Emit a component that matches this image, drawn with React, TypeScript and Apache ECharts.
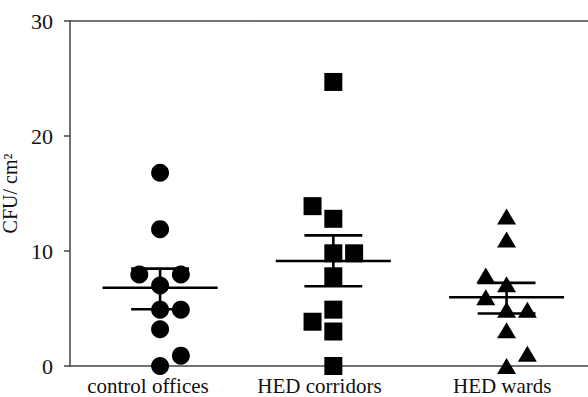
import React, { useEffect, useRef } from "react";
import * as echarts from "echarts";

const categories = ["control offices", "HED corridors", "HED wards"];
const labelPositions = [-0.07, 0.92, 1.975];

const controlValues = [16.8, 11.9, 7.95, 7.95, 7.0, 4.9, 4.9, 3.2, 0.9, 0.0];
const controlJitter = [0, 0, -1, 1, 0, 0, 1, 0, 1, 0];

const corridorValues = [24.7, 13.9, 12.8, 9.8, 9.8, 7.8, 4.9, 3.85, 3.0, 0.0];
const corridorJitter = [0, -1, 0, 0, 1, 0, 0, -1, 0, 0];

const wardValues = [13.0, 11.0, 7.87, 7.1, 5.98, 4.9, 4.9, 3.1, 1.07, 0.0];
const wardJitter = [0, 0, -1, 0, -1, 0, 1, 0, 1, 0];

const means = [6.8, 9.13, 5.98];
const upperSem = [8.47, 11.36, 7.23];
const lowerSem = [4.93, 6.94, 4.57];

const JITTER_STEP = 0.12;
const MEAN_HALF = 0.332;
const CAP_HALF = 0.167;
const FONT = "'Times New Roman', 'Liberation Serif', Times, serif";

function pts(cat: number, vals: number[], jit: number[]) {
  return vals.map((v, i) => [cat + jit[i] * JITTER_STEP, v]);
}

export default function App() {
  const ref = useRef<HTMLDivElement>(null);
  useEffect(() => {
    if (!ref.current) return;
    const chart = echarts.init(ref.current, null, { renderer: "svg" });
    const axisColor = "#444";
    chart.setOption({
      animation: false,
      backgroundColor: "#fff",
      textStyle: { fontFamily: FONT },
      grid: { left: 70, right: 0, top: 21, bottom: 31, containLabel: false, outerBoundsMode: "none" },
      xAxis: [
        {
          type: "value",
          min: -0.52,
          max: 2.47,
          axisLine: { show: true, onZero: false, lineStyle: { color: axisColor, width: 1.5 } },
          axisTick: { show: false },
          splitLine: { show: false },
          axisLabel: {
            customValues: labelPositions,
            formatter: (v: number) => categories[Math.round(v)] ?? "",
            fontFamily: FONT,
            fontSize: 21,
            color: "#111",
            margin: 9,
          },
        },
        {
          type: "value",
          position: "top",
          min: -0.52,
          max: 2.47,
          axisLine: { show: true, onZero: false, lineStyle: { color: axisColor, width: 1.5 } },
          axisTick: { show: false },
          splitLine: { show: false },
          axisLabel: { show: false },
        },
      ],
      yAxis: {
        type: "value",
        min: 0,
        max: 30,
        interval: 10,
        name: "CFU/ cm²",
        nameLocation: "middle",
        nameGap: 40,
        nameTextStyle: { fontFamily: FONT, fontSize: 20, color: "#111" },
        axisLine: { show: true, onZero: false, lineStyle: { color: axisColor, width: 1.5 } },
        axisTick: { show: true, length: 6, lineStyle: { color: axisColor, width: 1.5 } },
        splitLine: { show: false },
        axisLabel: {
          fontFamily: FONT,
          fontSize: 22,
          color: "#111",
          margin: 17,
        },
      },
      series: [
        {
          type: "custom",
          xAxisIndex: 0,
          z: 1,
          data: means.map((m, i) => [i, m, upperSem[i], lowerSem[i]]),
          renderItem: (params: any, api: any) => {
            const c = api.value(0);
            const m = api.value(1);
            const u = api.value(2);
            const l = api.value(3);
            const ml = api.coord([c - MEAN_HALF, m]);
            const mr = api.coord([c + MEAN_HALF, m]);
            const ul = api.coord([c - CAP_HALF, u]);
            const ur = api.coord([c + CAP_HALF, u]);
            const ll = api.coord([c - CAP_HALF, l]);
            const lr = api.coord([c + CAP_HALF, l]);
            const uc = api.coord([c, u]);
            const lc = api.coord([c, l]);
            const style = { stroke: "#000", lineWidth: 2.6 };
            return {
              type: "group",
              children: [
                { type: "line", shape: { x1: ml[0], y1: ml[1], x2: mr[0], y2: mr[1] }, style },
                { type: "line", shape: { x1: ul[0], y1: ul[1], x2: ur[0], y2: ur[1] }, style },
                { type: "line", shape: { x1: ll[0], y1: ll[1], x2: lr[0], y2: lr[1] }, style },
                { type: "line", shape: { x1: uc[0], y1: uc[1], x2: lc[0], y2: lc[1] }, style },
              ],
            };
          },
        },
        {
          type: "scatter",
          z: 3,
          symbol: "circle",
          symbolSize: 18,
          itemStyle: { color: "#000", opacity: 1 },
          data: pts(0, controlValues, controlJitter),
        },
        {
          type: "scatter",
          z: 3,
          symbol: "rect",
          symbolSize: 18,
          itemStyle: { color: "#000", opacity: 1 },
          data: pts(1, corridorValues, corridorJitter),
        },
        {
          type: "scatter",
          z: 3,
          symbol: "triangle",
          symbolSize: [19, 16],
          itemStyle: { color: "#000", opacity: 1 },
          data: pts(2, wardValues, wardJitter),
        },
      ],
    });
    return () => chart.dispose();
  }, []);
  return <div ref={ref} style={{ width: 588, height: 397, position: "absolute", left: 0, top: 0 }} />;
}
